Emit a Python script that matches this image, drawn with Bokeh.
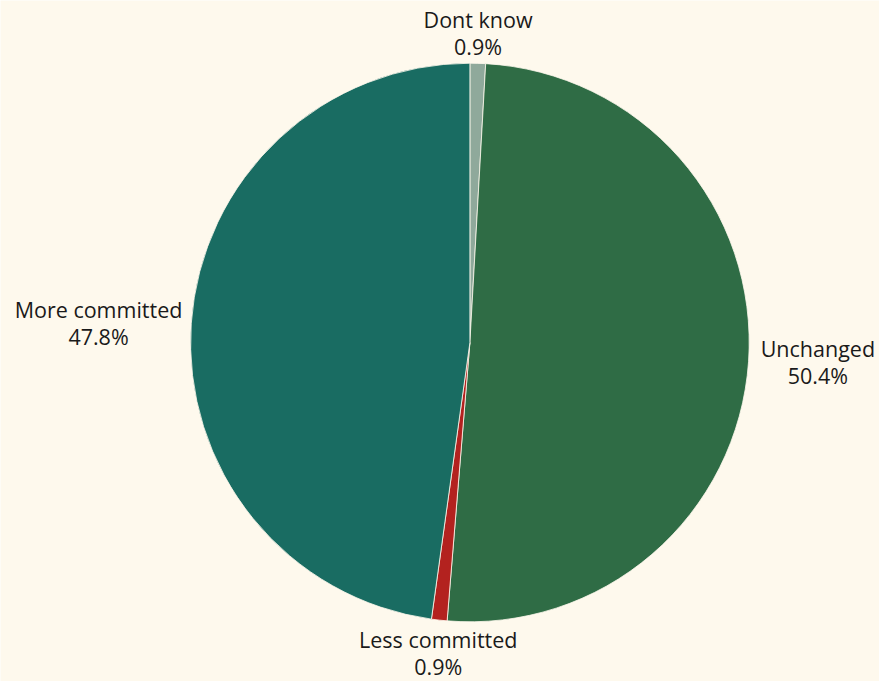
import math
from bokeh.plotting import figure
from bokeh.models import Range1d, ColumnDataSource
from bokeh.core.properties import value
from bokeh.embed import file_html
from bokeh.resources import INLINE

categories = ["Dont know", "Unchanged", "Less committed", "More committed"]
percents = [0.9, 50.4, 0.9, 47.8]
colors = ["#8fa99b", "#2f6c45", "#b3221f", "#196c62"]

BG = "#fef9ed"
W, H = 879, 681
CX, CY_S, R = 469.4, 342.0, 279.3   # pie centre (screen px) and radius
OFF = 9
FS = 21.5
LS = 27.0
CAP = 0.714 * FS

# approximate Open Sans advance widths (units of 1/2048 em) for label width estimates
ADV = {" ": 532, "%": 1696, ".": 545, "D": 1493, "L": 1104, "M": 1812, "U": 1511,
       "a": 1139, "c": 975, "d": 1255, "e": 1149, "g": 1122, "h": 1257, "i": 518,
       "k": 1075, "m": 1905, "n": 1257, "o": 1237, "r": 836, "s": 977, "t": 723,
       "w": 1614}


def text_width(t):
    return sum(ADV.get(ch, 1171) for ch in t) / 2048 * FS


total = sum(percents)
starts, ends = [], []
tx, ty, tt = [], [], []
cum = 0.0
for cat, pct in zip(categories, percents):
    a0 = math.pi / 2 - (cum + pct) / total * 2 * math.pi
    a1 = math.pi / 2 - cum / total * 2 * math.pi
    starts.append(a0)
    ends.append(a1)
    cum += pct
    mid = (a0 + a1) / 2
    c, s = math.cos(mid), math.sin(mid)
    px = CX + (R + OFF) * c
    py = CY_S - (R + OFF) * s          # screen y
    l1, l2 = cat, f"{pct:.1f}%"
    w = max(text_width(l1), text_width(l2))
    if c > 0.5:
        cx = px + 3 + w / 2
    elif c < -0.5:
        cx = px - w / 2
    else:
        cx = px
    if s > 0.5:
        b2 = py
        b1 = b2 - LS
    elif s < -0.5:
        b1 = py + 3 + CAP
        b2 = b1 + LS
    else:
        b1 = py - (CAP + LS) / 2 + CAP
        b2 = b1 + LS
    for t, b in ((l1, b1), (l2, b2)):
        tx.append(cx)
        ty.append(H - (b - CAP / 2))   # middle of the capitals
        tt.append(t)

src = ColumnDataSource(dict(start=starts, end=ends, color=colors))
lsrc = ColumnDataSource(dict(x=tx, y=ty, text=tt))

p = figure(width=W, height=H, output_backend="svg", toolbar_location=None,
           x_range=Range1d(0, W), y_range=Range1d(0, H), min_border=0)
p.axis.visible = False
p.grid.visible = False
p.outline_line_color = None
p.background_fill_color = BG
p.border_fill_color = BG

p.wedge(x=CX, y=H - CY_S, radius=R, start_angle="start", end_angle="end",
        fill_color="color", line_color=BG, line_width=0.8, source=src)

p.text(x="x", y="y", text="text", text_align="center", text_baseline="middle",
       text_font=value("Open Sans"), text_font_size=f"{FS}px", text_color="#1a1a1a",
       source=lsrc)

open("out.html", "w").write(file_html(p, INLINE))
